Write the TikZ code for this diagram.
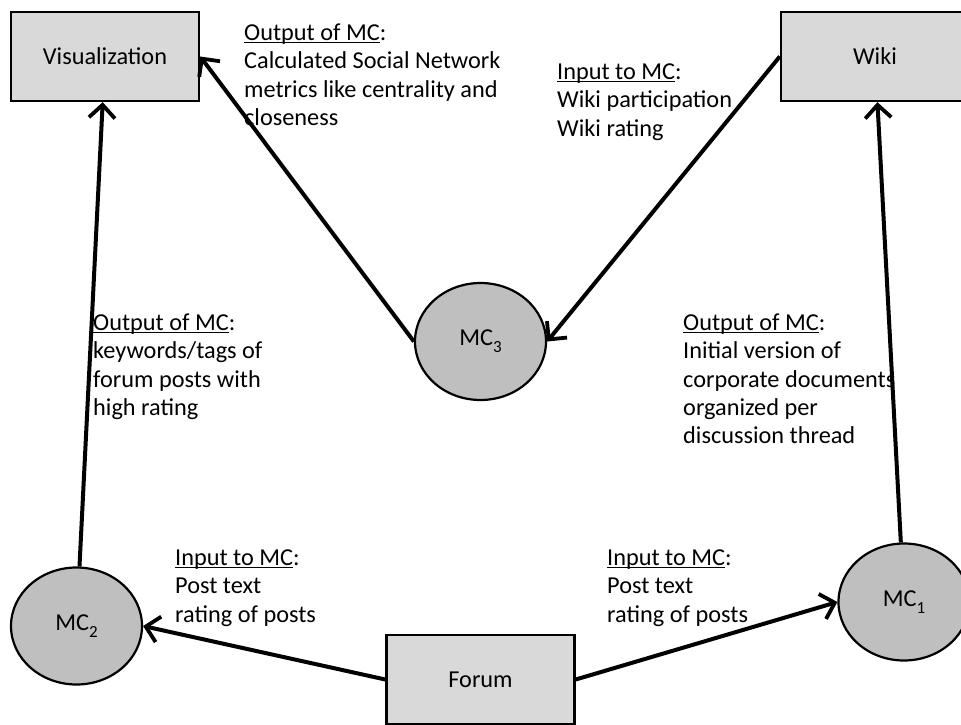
\documentclass[tikz,border=0pt]{standalone}
\usepackage{fontspec}
\setmainfont{Carlito}
\usetikzlibrary{arrows.meta,shapes.geometric}

% underline that stops at the text width, Word style
\newcommand\undl[1]{\setbox0\hbox{#1}\rlap{\rule[-2.6pt]{\wd0}{1.4pt}}\box0}
% lowered subscript for the component names
\newcommand\mcsub[1]{\raisebox{-0.28em}{\fontsize{17}{17}\selectfont #1}}

\definecolor{boxgray}{HTML}{D9D9D9}
\definecolor{mcgray}{HTML}{BFBFBF}

\tikzset{
  sysbox/.style={draw=black, line width=2.4pt, fill=boxgray, minimum width=188, minimum height=89, inner sep=0pt},
  mcnode/.style={ellipse, draw=black, line width=2.2pt, fill=mcgray, minimum width=131, minimum height=117, inner sep=0pt},
  flow/.style={line width=4pt, -{Straight Barb[length=13pt,width=26pt,line width=3.8pt]}},
  note/.style={anchor=base west, align=left, inner sep=0pt}
}

\begin{document}
\begin{tikzpicture}[x=1pt, y=-1pt, font=\fontsize{24.3}{28.3}\selectfont]
\useasboundingbox (0,0) rectangle (961,725);
\fill[white] (0,0) rectangle (961,725);
\clip (0,0) rectangle (961,725);

% systems
\node[sysbox] (vis)   at (105,56.5)  {Visualization};
\node[sysbox] (wiki)  at (875,56.5)  {Wiki};
\node[sysbox] (forum) at (480.5,679.5) {Forum};

% mining components
\node[mcnode] (mc3) at (480.5,341.5) {MC\mcsub{3}};
\node[mcnode] (mc2) at (76.5,626)    {MC\mcsub{2}};
\node[mcnode] (mc1) at (904,602)     {MC\mcsub{1}};

% data flows
\draw[flow] (mc2) -- (vis);
\draw[flow] (mc1) -- (wiki);
\draw[flow] (mc3.west) -- (vis.east);
\draw[flow] (wiki.west) -- (mc3.east);
\draw[flow] (forum.west) -- (mc2.east);
\draw[flow] (forum.east) -- (mc1.west);

% annotations (anchored at the baseline of their last line)
\node[note] (t3out) at (244,125.4) {\undl{Output of MC}:\\Calculated Social Network\\metrics like centrality and\\closeness};
\node[note] (t3in) at (557,136.1) {\undl{Input to MC}:\\Wiki participation\\Wiki rating};
\node[note] (t2out) at (93,415.4) {\undl{Output of MC}:\\keywords/tags of\\forum posts with\\high rating};
\node[note] (t1out) at (683,443.7) {\undl{Output of MC}:\\Initial version of\\corporate documents\\organized per\\discussion thread};
\node[note] (t2in) at (175,622.1) {\undl{Input to MC}:\\Post text\\rating of posts};
\node[note] (t1in) at (607,622.1) {\undl{Input to MC}:\\Post text\\rating of posts};
\end{tikzpicture}
\end{document}
